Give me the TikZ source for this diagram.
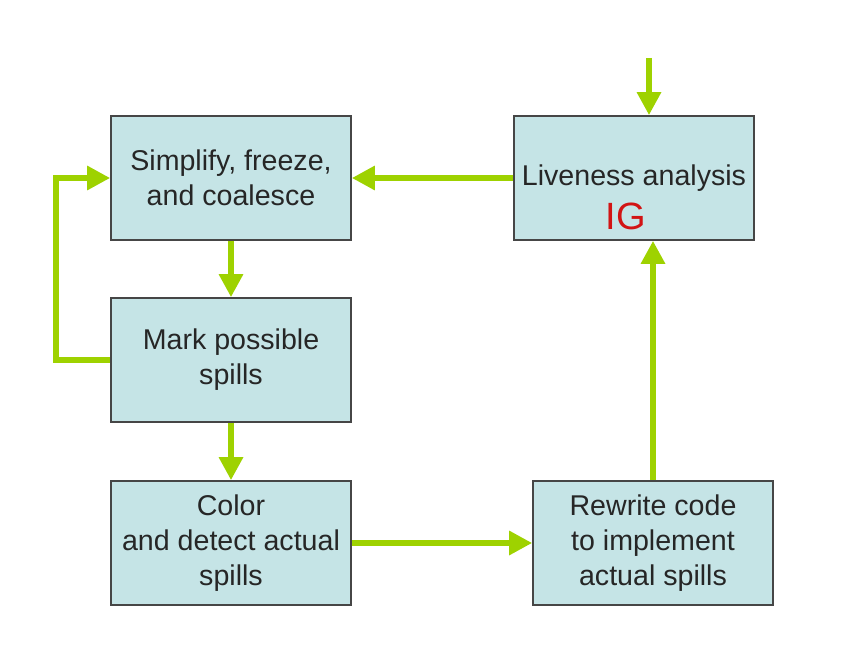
\documentclass[tikz,border=0pt]{standalone}
\usepackage{fontspec}
\setmainfont{Liberation Sans}
\usetikzlibrary{arrows.meta,positioning,calc}
\definecolor{boxfill}{RGB}{197,228,230}
\definecolor{boxline}{RGB}{70,70,70}
\definecolor{flowgreen}{RGB}{158,210,0}
\definecolor{notered}{RGB}{210,20,20}

\begin{document}
\begin{tikzpicture}[
	x=0.5pt,
	y=-0.5pt,
	stagebox/.style={draw=boxline,fill=boxfill,line width=0.8pt,minimum width=120pt,minimum height=62pt,align=center,inner sep=2pt,font=\fontsize{14.3}{17.5}\selectfont,text=black!85},
	flow/.style={-{Triangle[length=11.5pt,width=11.5pt]},draw=flowgreen,line width=3pt},
	note/.style={text=notered,font=\fontsize{19}{19}\selectfont}
	]
	\useasboundingbox (0,0) rectangle (850,658);
	
	\node[stagebox] (simplify) at (231,178) {Simplify, freeze,\\and coalesce};
	\node[stagebox] (liveness) at (634,178) {Liveness analysis};
	\node[stagebox] (mark) at (231,360) {Mark possible\\spills};
	\node[stagebox] (color) at (231,543) {Color\\and detect actual\\spills};
	\node[stagebox] (rewrite) at (653,543) {Rewrite code\\to implement\\actual spills};
	\node[note] (ig) at (626,216) {IG};
	
	% Connectors
	\coordinate (entry) at (649,58);
	\draw[flow] (entry) -- (entry |- liveness.north);
	\draw[flow] (liveness.west) -- (simplify.east);
	\draw[flow] (simplify.south) -- (mark.north);
	\draw[flow] (mark.south) -- (color.north);
	\draw[flow] (mark.west) -- ++(-54,0) |- (simplify.west);
	\draw[flow] (color.east) -- (rewrite.west);
	\draw[flow] (rewrite.north) -- (rewrite.north |- liveness.south);
\end{tikzpicture}
\end{document}
